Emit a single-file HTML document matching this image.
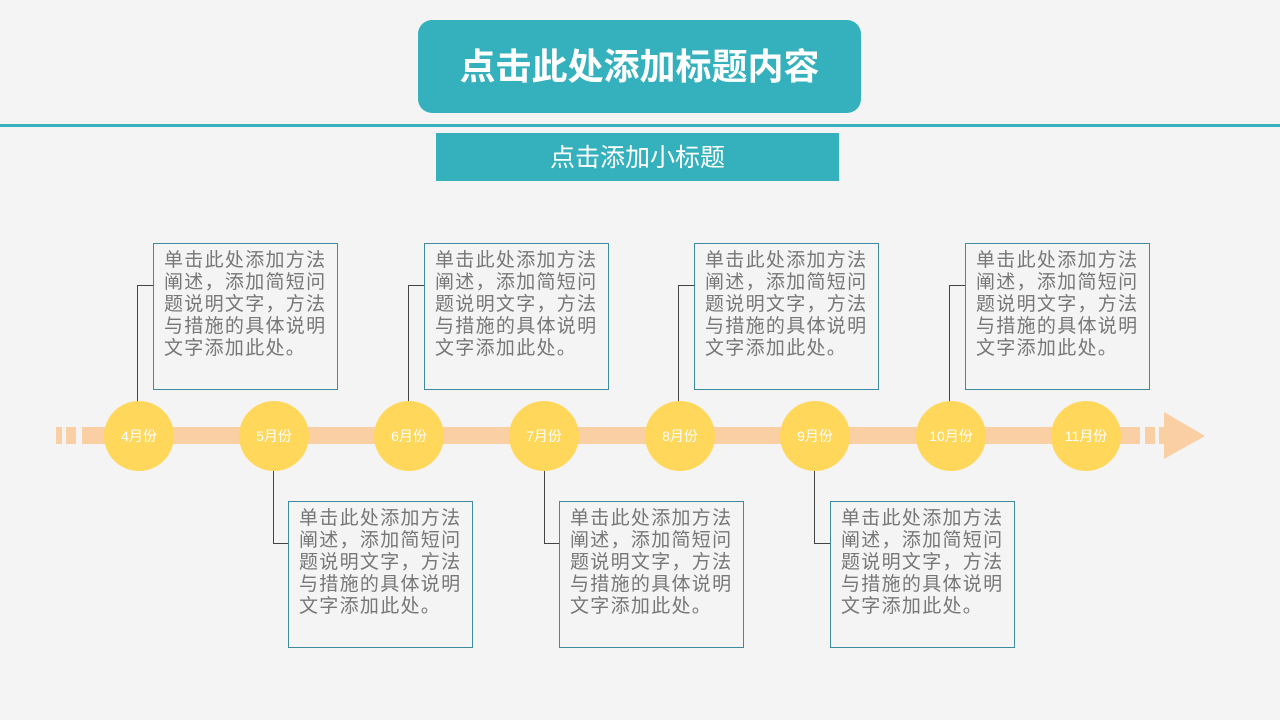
<!DOCTYPE html>
<html><head><meta charset="utf-8"><style>
body{margin:0;width:1280px;height:720px;background:#f4f4f4;position:relative;overflow:hidden;font-family:"Liberation Sans","Noto Sans CJK SC",sans-serif}
.a{position:absolute}
.t{position:absolute;left:418px;top:20px;width:443px;height:93px;background:#35b0bd;border-radius:14px;color:#fff;font-size:36px;font-weight:bold;text-align:center;line-height:93px}
.s{position:absolute;left:436px;top:133px;width:403px;height:48px;background:#35b0bd;color:#fff;font-size:25px;text-align:center;line-height:50px}
.box{position:absolute;width:185px;height:147px;border:1px solid #3e8aa0;box-sizing:border-box;color:#777;font-size:19px;line-height:22px;padding:6px 0 0 10px;letter-spacing:1.3px}
.c{position:absolute;width:70px;height:70px;border-radius:50%;background:#ffd75a;color:#fff;font-size:14px;text-align:center;line-height:70px;top:401px}
.v{position:absolute;width:1px;background:#444}
.h{position:absolute;height:1px;background:#444}
.bar{position:absolute;background:#fbcfa4;top:427px;height:17px}
</style></head><body>
<div class="t">点击此处添加标题内容</div>
<div class="a" style="left:0;top:124px;width:1280px;height:3px;background:#35b0bd"></div>
<div class="s">点击添加小标题</div>

<div class="bar" style="left:56px;width:6px"></div>
<div class="bar" style="left:66px;width:10px"></div>
<div class="bar" style="left:82px;width:1058px"></div>
<div class="bar" style="left:1145px;width:10px"></div>
<div class="bar" style="left:1159px;width:8px"></div>
<svg class="a" style="left:1164px;top:412px" width="42" height="48"><polygon points="0,0 41,24 0,47" fill="#fbcfa4"/></svg>

<div class="v" style="left:137px;top:285px;height:117px"></div><div class="h" style="left:137px;top:285px;width:16px"></div>
<div class="v" style="left:408px;top:285px;height:117px"></div><div class="h" style="left:408px;top:285px;width:16px"></div>
<div class="v" style="left:678px;top:285px;height:117px"></div><div class="h" style="left:678px;top:285px;width:16px"></div>
<div class="v" style="left:949px;top:285px;height:117px"></div><div class="h" style="left:949px;top:285px;width:16px"></div>
<div class="v" style="left:273px;top:470px;height:73px"></div><div class="h" style="left:273px;top:543px;width:16px"></div>
<div class="v" style="left:544px;top:470px;height:73px"></div><div class="h" style="left:544px;top:543px;width:16px"></div>
<div class="v" style="left:814px;top:470px;height:73px"></div><div class="h" style="left:814px;top:543px;width:16px"></div>

<div class="box" style="left:153px;top:243px">单击此处添加方法阐述，添加简短问题说明文字，方法与措施的具体说明文字添加此处。</div>
<div class="box" style="left:424px;top:243px">单击此处添加方法阐述，添加简短问题说明文字，方法与措施的具体说明文字添加此处。</div>
<div class="box" style="left:694px;top:243px">单击此处添加方法阐述，添加简短问题说明文字，方法与措施的具体说明文字添加此处。</div>
<div class="box" style="left:965px;top:243px">单击此处添加方法阐述，添加简短问题说明文字，方法与措施的具体说明文字添加此处。</div>
<div class="box" style="left:288px;top:501px">单击此处添加方法阐述，添加简短问题说明文字，方法与措施的具体说明文字添加此处。</div>
<div class="box" style="left:559px;top:501px">单击此处添加方法阐述，添加简短问题说明文字，方法与措施的具体说明文字添加此处。</div>
<div class="box" style="left:830px;top:501px">单击此处添加方法阐述，添加简短问题说明文字，方法与措施的具体说明文字添加此处。</div>

<div class="c" style="left:104px">4月份</div>
<div class="c" style="left:239px">5月份</div>
<div class="c" style="left:374px">6月份</div>
<div class="c" style="left:509px">7月份</div>
<div class="c" style="left:645px">8月份</div>
<div class="c" style="left:780px">9月份</div>
<div class="c" style="left:916px">10月份</div>
<div class="c" style="left:1051px">11月份</div>
</body></html>
